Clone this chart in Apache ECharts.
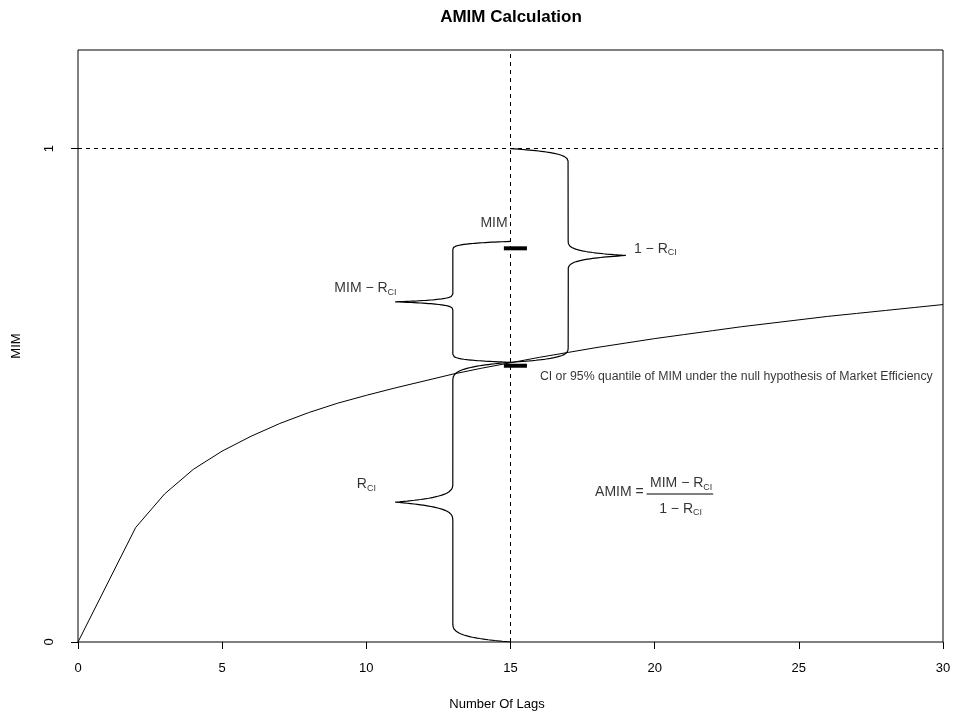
<!DOCTYPE html>
<html>
<head>
<meta charset="utf-8">
<script src="https://cdn.jsdelivr.net/npm/echarts@6/dist/echarts.min.js"></script>
<style>html,body{margin:0;padding:0;background:#fff;}#c{width:954px;height:715px;}</style>
</head>
<body>
<div id="c"></div>
<script>
// ---- data ----
const lags = [0,2,3,4,5,6,7,8,9,10,11,12,13,14,15,16,17,18,19,20,21,22,23,24,25,26,27,28,29,30];
const mimCurve = [0,0.232,0.300,0.350,0.387,0.417,0.443,0.465,0.484,0.500,0.515,0.529,0.543,0.555,0.566,0.577,0.587,0.597,0.606,0.615,0.623,0.631,0.639,0.646,0.653,0.660,0.666,0.672,0.678,0.684];
const xTicks = [0,5,10,15,20,25,30];
const yTicks = [0,1];
const lagLine = 15;          // dashed vertical
const topLine = 1;           // dashed horizontal
const ciValue = 0.567;       // R_CI
const mimValue = 0.812;      // MIM
const markerY = [0.798, 0.560];   // thick bars
const markerX = [14.77, 15.57];
// braces: [yStart, yEnd, xSpine, xTip]
const braceStart = [0, ciValue, 1];
const braceEnd = [ciValue, mimValue, ciValue];
const braceSpine = [13, 13, 17];
const braceTip = [11, 11, 19];
const braceFoot = 15;
const fracLineX = [19.72, 22.03];
const fracLineY = 0.300;

const FONT = '"Liberation Sans", Arial, Helvetica, sans-serif';

function corner(xa, ya, xs, ys, n) {
  const pts = [];
  for (let i = 0; i <= n; i++) {
    const t = i / n, u = 1 - t;
    const fx = 1 - u * u * u;
    const fy = 0.75 * u * u * t + 1.8 * u * t * t + t * t * t;
    pts.push([xa + (xs - xa) * fx, ya + (ys - ya) * fy]);
  }
  return pts;
}
function brace(xEnd, xSpine, xTip, y0, y1) {
  const ym = (y0 + y1) / 2, h = 0.068 * (y1 - y0), n = 40;
  let pts = [];
  pts = pts.concat(corner(xEnd, y0, xSpine, y0 + h, n));
  pts = pts.concat(corner(xTip, ym, xSpine, ym - h, n).reverse());
  pts = pts.concat(corner(xTip, ym, xSpine, ym + h, n));
  pts = pts.concat(corner(xEnd, y1, xSpine, y1 - h, n).reverse());
  return pts;
}

const series = [];
series.push({
  type: 'line', data: lags.map((x, i) => [x, mimCurve[i]]), showSymbol: false, symbol: 'none',
  lineStyle: { color: '#000', width: 1 }, silent: true,
  markLine: {
    symbol: 'none', silent: true, label: { show: false },
    lineStyle: { color: '#000', width: 1, type: [4, 4] },
    data: [{ xAxis: lagLine }, { yAxis: topLine }]
  }
});
for (let i = 0; i < braceStart.length; i++) {
  series.push({
    type: 'line', data: brace(braceFoot, braceSpine[i], braceTip[i], braceStart[i], braceEnd[i]),
    symbol: 'none', lineStyle: { color: '#000', width: 1.2 }, silent: true
  });
}
markerY.forEach(y => {
  series.push({
    type: 'line', data: [[markerX[0], y], [markerX[1], y]], symbol: 'none',
    lineStyle: { color: '#000', width: 4, cap: 'butt' }, silent: true
  });
});
series.push({
  type: 'line', data: [[fracLineX[0], fracLineY], [fracLineX[1], fracLineY]], symbol: 'none',
  lineStyle: { color: '#000', width: 1 }, silent: true
});

const rich = {
  n: { fontSize: 14, fontFamily: FONT, color: '#000', textBorderWidth: 0 },
  s: { fontSize: 9, fontFamily: FONT, color: '#000', textBorderWidth: 0, padding: [8, 0, 0, 0] }
};
function lab(x, y, text, align, size) {
  return {
    value: [x, y],
    label: { show: true, position: 'inside', formatter: text, align: align, verticalAlign: 'middle',
      fontSize: size || 14, fontFamily: FONT, color: '#000', textBorderWidth: 0, textBorderColor: 'transparent', rich: rich }
  };
}
const labels = [
  lab(14.43, 0.850, '{n|MIM}', 'center'),
  lab(11.05, 0.717, '{n|MIM − R}{s|CI}', 'right'),
  lab(10.0, 0.320, '{n|R}{s|CI}', 'center'),
  lab(19.28, 0.797, '{n|1 − R}{s|CI}', 'left'),
  lab(16.02, 0.537, 'CI or 95% quantile of MIM under the null hypothesis of Market Efficiency', 'left', 12.3),
  lab(19.62, 0.303, '{n|AMIM =}', 'right'),
  lab(20.92, 0.321, '{n|MIM − R}{s|CI}', 'center'),
  lab(20.90, 0.270, '{n|1 − R}{s|CI}', 'center')
];
series.push({
  type: 'scatter', data: labels, symbolSize: 1, itemStyle: { color: 'rgba(0,0,0,0)' }, silent: true, z: 5
});

const chart = echarts.init(document.getElementById('c'), null, { renderer: 'canvas' });
chart.setOption({
  animation: false,
  backgroundColor: '#fff',
  grid: { left: 78, right: 11, top: 50, bottom: 73, show: true, borderColor: '#000', borderWidth: 1, backgroundColor: 'transparent' },
  xAxis: {
    type: 'value', min: 0, max: 30, interval: 5,
    axisLine: { show: false },
    axisTick: { show: true, length: 7, lineStyle: { color: '#000' }, customValues: xTicks },
    axisLabel: { color: '#000', fontSize: 13, fontFamily: FONT, margin: 20, customValues: xTicks },
    splitLine: { show: false }
  },
  yAxis: {
    type: 'value', min: 0, max: 1.2, interval: 1,
    axisLine: { show: false },
    axisTick: { show: true, length: 7, lineStyle: { color: '#000' }, customValues: yTicks },
    axisLabel: { color: '#000', fontSize: 13, fontFamily: FONT, margin: 22, rotate: 90, customValues: yTicks },
    splitLine: { show: false }
  },
  graphic: [
    { type: 'text', style: { text: 'AMIM Calculation', x: 511, y: 17, align: 'center', verticalAlign: 'middle', font: 'bold 17px ' + FONT, fill: '#000' } },
    { type: 'text', style: { text: 'Number Of Lags', x: 497, y: 704, align: 'center', verticalAlign: 'middle', font: '13px ' + FONT, fill: '#000' } },
    { type: 'text', rotation: Math.PI / 2, x: 16, y: 346, style: { text: 'MIM', x: 0, y: 0, align: 'center', verticalAlign: 'middle', font: '13px ' + FONT, fill: '#000' } }
  ],
  series: series
});
</script>
</body>
</html>
